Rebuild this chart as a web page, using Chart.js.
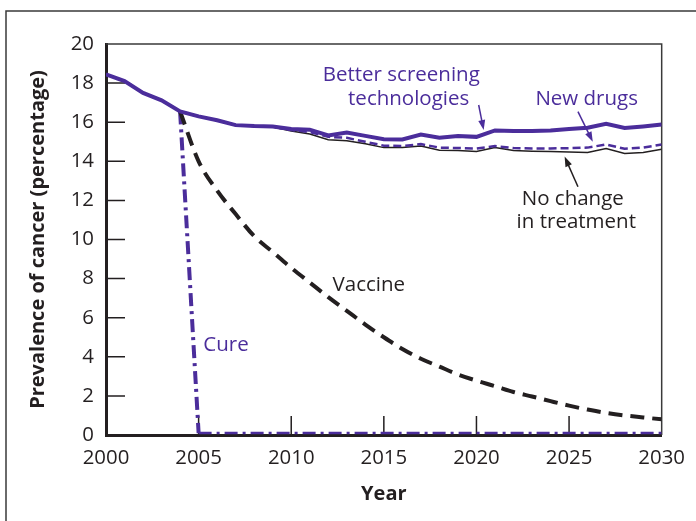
<!DOCTYPE html>
<html>
<head>
<meta charset="utf-8">
<script src="https://cdn.jsdelivr.net/npm/chart.js@4.4.0/dist/chart.umd.min.js"></script>
<style>
  body { margin: 0; background: #fff; }
  #wrap { width: 696px; height: 521px; }
</style>
</head>
<body>
<div id="wrap"><canvas id="myChart" width="696" height="521"></canvas></div>
<script>
const years = [2000, 2001, 2002, 2003, 2004, 2005, 2006, 2007, 2008, 2009, 2010,
  2011, 2012, 2013, 2014, 2015, 2016, 2017, 2018, 2019, 2020,
  2021, 2022, 2023, 2024, 2025, 2026, 2027, 2028, 2029, 2030];

const betterScreening = [18.45, 18.1, 17.5, 17.12, 16.55, 16.3, 16.1, 15.85, 15.8, 15.78, 15.65,
  15.62, 15.32, 15.47, 15.3, 15.13, 15.12, 15.37, 15.2, 15.29, 15.25,
  15.58, 15.55, 15.55, 15.58, 15.65, 15.72, 15.92, 15.7, 15.78, 15.88];

const newDrugs = [18.45, 18.1, 17.5, 17.12, 16.55, 16.3, 16.1, 15.85, 15.8, 15.76, 15.6,
  15.5, 15.25, 15.2, 15.0, 14.8, 14.78, 14.88, 14.7, 14.68, 14.65,
  14.78, 14.68, 14.66, 14.66, 14.67, 14.7, 14.86, 14.64, 14.7, 14.86];

const noChange = [18.45, 18.1, 17.5, 17.12, 16.55, 16.3, 16.1, 15.85, 15.8, 15.75, 15.55,
  15.4, 15.1, 15.05, 14.9, 14.7, 14.7, 14.78, 14.57, 14.55, 14.5,
  14.7, 14.55, 14.52, 14.5, 14.48, 14.45, 14.65, 14.4, 14.45, 14.62];

const vaccine = [null, null, null, null, 16.55, 14.0, 12.5, 11.3, 10.17, 9.36, 8.55,
  7.8, 7.05, 6.35, 5.65, 5.0, 4.4, 3.9, 3.5, 3.1, 2.78,
  2.5, 2.2, 1.97, 1.73, 1.5, 1.3, 1.13, 1.0, 0.9, 0.8];

const cure = [null, null, null, null, 16.55, 0.1, 0.1, 0.1, 0.1, 0.1, 0.1,
  0.1, 0.1, 0.1, 0.1, 0.1, 0.1, 0.1, 0.1, 0.1, 0.1,
  0.1, 0.1, 0.1, 0.1, 0.1, 0.1, 0.1, 0.1, 0.1, 0.1];

const xTicks = [2000, 2005, 2010, 2015, 2020, 2025, 2030];
const yTicks = [0, 2, 4, 6, 8, 10, 12, 14, 16, 18, 20];

const purple = '#4b2d9b';
const ink = '#231f20';
const font = "'Open Sans', 'Noto Sans', sans-serif";

// text labels and arrows, placed in data units
const labels = [
  {text: 'Better screening', x: 2015.94, y: 18.41, color: purple},
  {text: 'technologies', x: 2016.34, y: 17.19, color: purple},
  {text: 'New drugs', x: 2025.95, y: 17.19, color: purple},
  {text: 'No change', x: 2025.2, y: 12.07, color: ink},
  {text: 'in treatment', x: 2025.39, y: 10.9, color: ink},
  {text: 'Vaccine', x: 2014.19, y: 7.67, color: ink},
  {text: 'Cure', x: 2006.48, y: 4.6, color: purple}
];
const arrows = [
  {from: [2020.12, 16.88], to: [2020.39, 15.6], color: purple},
  {from: [2025.48, 16.54], to: [2026.28, 15.0], color: purple},
  {from: [2025.48, 12.7], to: [2024.76, 14.24], color: ink}
];

function pts(arr) {
  return years.map((yr, i) => ({x: yr, y: arr[i]}));
}

const decor = {
  id: 'decor',
  beforeDraw(chart) {
    const c = chart.ctx;
    c.save();
    c.strokeStyle = '#3a3a3a';
    c.lineWidth = 1.5;
    c.beginPath();
    c.moveTo(6, 521);
    c.lineTo(6, 11);
    c.lineTo(700, 11);
    c.stroke();
    c.restore();
  },
  beforeDatasetsDraw(chart) {
    const c = chart.ctx;
    const a = chart.chartArea;
    const x = chart.scales.x;
    const y = chart.scales.y;
    c.save();
    c.strokeStyle = '#3a3a3a';
    c.lineWidth = 1.5;
    c.beginPath();
    c.moveTo(a.left, a.top);
    c.lineTo(a.right, a.top);
    c.lineTo(a.right, a.bottom);
    c.stroke();
    c.strokeStyle = ink;
    c.beginPath();
    yTicks.slice(1, -1).forEach(v => {
      const p = y.getPixelForValue(v);
      c.moveTo(a.left, p);
      c.lineTo(a.left + 19, p);
    });
    xTicks.slice(1, -1).forEach(v => {
      const p = x.getPixelForValue(v);
      c.moveTo(p, a.bottom);
      c.lineTo(p, a.bottom - 19);
    });
    c.stroke();
    c.restore();
  },
  afterDatasetsDraw(chart) {
    const c = chart.ctx;
    const x = chart.scales.x;
    const y = chart.scales.y;
    c.save();
    c.font = '20.5px ' + font;
    c.textAlign = 'center';
    c.textBaseline = 'middle';
    labels.forEach(l => {
      c.fillStyle = l.color;
      c.fillText(l.text, x.getPixelForValue(l.x), y.getPixelForValue(l.y));
    });
    arrows.forEach(ar => {
      const x1 = x.getPixelForValue(ar.from[0]), y1 = y.getPixelForValue(ar.from[1]);
      const x2 = x.getPixelForValue(ar.to[0]), y2 = y.getPixelForValue(ar.to[1]);
      const ang = Math.atan2(y2 - y1, x2 - x1);
      c.strokeStyle = ar.color;
      c.fillStyle = ar.color;
      c.lineWidth = 1.5;
      c.beginPath();
      c.moveTo(x1, y1);
      c.lineTo(x2 - 6 * Math.cos(ang), y2 - 6 * Math.sin(ang));
      c.stroke();
      c.beginPath();
      c.moveTo(x2, y2);
      c.lineTo(x2 - 10 * Math.cos(ang) + 3.5 * Math.sin(ang), y2 - 10 * Math.sin(ang) - 3.5 * Math.cos(ang));
      c.lineTo(x2 - 10 * Math.cos(ang) - 3.5 * Math.sin(ang), y2 - 10 * Math.sin(ang) + 3.5 * Math.cos(ang));
      c.closePath();
      c.fill();
    });
    c.restore();
  }
};

new Chart(document.getElementById('myChart'), {
  type: 'line',
  data: {
    datasets: [
      {label: 'Better screening technologies', data: pts(betterScreening), borderColor: purple, borderWidth: 4},
      {label: 'New drugs', data: pts(newDrugs), borderColor: purple, borderWidth: 2.5, borderDash: [8, 4]},
      {label: 'No change in treatment', data: pts(noChange), borderColor: ink, borderWidth: 1.5},
      {label: 'Vaccine', data: pts(vaccine), borderColor: ink, borderWidth: 4, borderDash: [14, 8],
        cubicInterpolationMode: 'monotone'},
      {label: 'Cure', data: pts(cure), borderColor: purple, borderWidth: 4, borderDash: [13, 5, 3, 5],
        segment: {borderWidth: ctx => ctx.p0.parsed.x >= 2005 ? 2.5 : 4}}
    ]
  },
  options: {
    responsive: false,
    animation: false,
    events: [],
    elements: {point: {radius: 0}, line: {tension: 0, borderCapStyle: 'butt'}},
    layout: {padding: {left: 22, top: 44, right: 30, bottom: 0}},
    plugins: {legend: {display: false}, tooltip: {enabled: false}},
    scales: {
      x: {
        type: 'linear',
        min: 2000,
        max: 2030,
        afterBuildTicks: s => { s.ticks = xTicks.map(v => ({value: v})); },
        afterFit: s => { s.height = 86; },
        grid: {drawOnChartArea: false, drawTicks: false},
        border: {color: ink, width: 3},
        ticks: {color: ink, padding: 11, font: {family: font, size: 20.4}, callback: v => String(v)},
        title: {display: true, text: 'Year', color: ink, padding: {top: 0, bottom: 14.5},
          font: {family: font, size: 20, weight: 'bold'}}
      },
      y: {
        min: 0,
        max: 20,
        afterBuildTicks: s => { s.ticks = yTicks.map(v => ({value: v})); },
        afterFit: s => { s.width = 84; },
        grid: {drawOnChartArea: false, drawTicks: false},
        border: {color: ink, width: 3},
        ticks: {color: ink, padding: 12, font: {family: font, size: 20.4}},
        title: {display: true, text: 'Prevalence of cancer (percentage)', color: ink, padding: {top: 4, bottom: 4},
          font: {family: font, size: 20, weight: 'bold'}}
      }
    }
  },
  plugins: [decor]
});
</script>
</body>
</html>
